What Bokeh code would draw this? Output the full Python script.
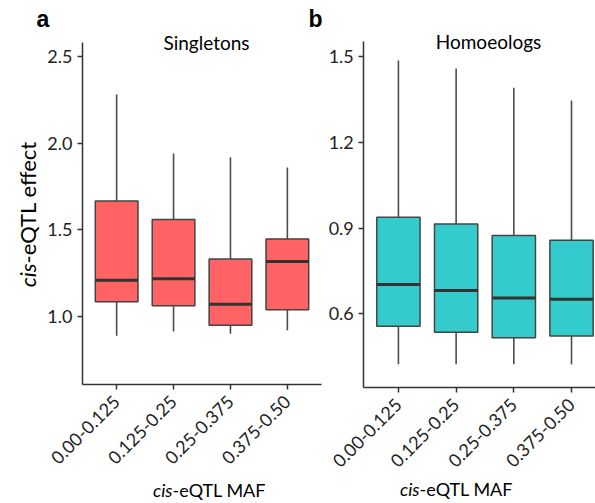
import math
from bokeh.plotting import figure
from bokeh.layouts import row
from bokeh.models import Range1d, FixedTicker, Label, NumeralTickFormatter
from bokeh.embed import file_html
from bokeh.resources import INLINE

categories = ["0.00-0.125", "0.125-0.25", "0.25-0.375", "0.375-0.50"]

single_low = [0.89, 0.915, 0.902, 0.921]
single_q1 = [1.086, 1.063, 0.95, 1.04]
single_med = [1.209, 1.218, 1.071, 1.318]
single_q3 = [1.667, 1.56, 1.332, 1.447]
single_high = [2.28, 1.94, 1.918, 1.86]

homo_low = [0.424, 0.424, 0.424, 0.424]
homo_q1 = [0.557, 0.536, 0.517, 0.523]
homo_med = [0.703, 0.682, 0.656, 0.651]
homo_q3 = [0.938, 0.914, 0.874, 0.857]
homo_high = [1.485, 1.457, 1.39, 1.345]

single_ticks = [1.0, 1.5, 2.0, 2.5]
homo_ticks = [0.6, 0.9, 1.2, 1.5]

FONT = "Lato"
AX = "#333333"
H = 503
LEFT_W = 322


def panel(width, xr, yr, xbounds, ybounds, yticks, low, q1, med, q3, high, fill):
    # frame covers the whole canvas; axes are pinned with fixed_location
    p = figure(width=width, height=H, output_backend="svg", toolbar_location=None,
               x_range=Range1d(*xr), y_range=Range1d(*yr), min_border=0)
    p.outline_line_color = None
    p.grid.visible = False
    p.background_fill_color = "white"
    p.border_fill_color = "white"
    xs = [i + 1 for i in range(len(categories))]
    p.segment(xs, q3, xs, high, line_color="#4d4d4d", line_width=1.6)
    p.segment(xs, q1, xs, low, line_color="#4d4d4d", line_width=1.6)
    p.vbar(x=xs, bottom=q1, top=q3, width=0.75, fill_color=fill,
           line_color="#444444", line_width=1.5)
    half = 0.375
    p.segment([x - half for x in xs], med, [x + half for x in xs], med,
              line_color="#333333", line_width=3)
    p.xaxis.ticker = FixedTicker(ticks=xs)
    p.xaxis.major_label_overrides = {x: c for x, c in zip(xs, categories)}
    p.xaxis.major_label_orientation = math.pi / 4
    p.xaxis.fixed_location = ybounds[0]
    p.xaxis.bounds = xbounds
    p.yaxis.ticker = FixedTicker(ticks=yticks)
    p.yaxis.formatter = NumeralTickFormatter(format="0.0")
    p.yaxis.fixed_location = xbounds[0]
    p.yaxis.bounds = ybounds
    for ax in (p.xaxis, p.yaxis):
        ax.axis_line_color = AX
        ax.axis_line_width = 1.5
        ax.major_tick_line_color = AX
        ax.major_tick_line_width = 1.5
        ax.major_tick_out = 5
        ax.major_tick_in = 0
        ax.minor_tick_line_color = None
        ax.major_label_text_font = FONT
        ax.major_label_text_color = "#222222"
    p.xaxis.major_label_standoff = 9
    p.yaxis.major_label_standoff = 5
    p.xaxis.major_label_text_font_size = "18px"
    p.yaxis.major_label_text_font_size = "18px"
    return p


def add_text(p, canvas_left, cx, cy, text, size, style="normal", align="left",
             angle=0, font=FONT, color="black"):
    # (cx, cy) is the wanted baseline point in page pixels; shift compensates
    # for the renderer's baseline placement
    shift = 0.3 * size
    if angle == 0:
        cy -= shift
    else:
        cx -= shift
    p.add_layout(Label(x=cx - canvas_left, y=H - cy, x_units="screen", y_units="screen",
                       text=text, text_font=font, text_font_size=f"{size}px",
                       text_font_style=style, text_align=align,
                       text_baseline="alphabetic", angle=angle, text_color=color))


# left panel: canvas x 0..322; axes at x=82 (0.4) and y=384 (0.609)
left = panel(LEFT_W, (-1.041, 4.6175), (-0.077, 2.822), (0.4, 4.6), (0.609, 2.580),
             single_ticks, single_low, single_q1, single_med, single_q3, single_high,
             "#FF6363")
# right panel: canvas x 322..595; axes at x=363.3 (0.4) and y=387 (0.343)
right = panel(595 - LEFT_W, (-0.3158, 4.4156), (-0.0617, 1.6943), (0.4, 4.6), (0.343, 1.551),
              homo_ticks, homo_low, homo_q1, homo_med, homo_q3, homo_high,
              "#33CBCB")

add_text(left, 0, 36, 25, "a", 23, style="bold", font="Liberation Sans")
add_text(left, 0, 308, 25, "b", 23, style="bold", font="Liberation Sans")
add_text(left, 0, 206, 48, "Singletons", 19, align="center")
add_text(left, 0, 34, 263, "cis", 22, style="italic", align="right", angle=math.pi / 2)
add_text(left, 0, 34, 263, "-eQTL effect", 22, align="left", angle=math.pi / 2)
add_text(left, 0, 172, 495, "cis", 18, style="italic", align="right")
add_text(left, 0, 172, 495, "-eQTL MAF", 18, align="left")

add_text(right, LEFT_W, 488, 47, "Homoeologs", 19, align="center")
add_text(right, LEFT_W, 419, 494, "cis", 18, style="italic", align="right")
add_text(right, LEFT_W, 419, 494, "-eQTL MAF", 18, align="left")

layout = row(left, right)
open("out.html", "w").write(file_html(layout, INLINE))
